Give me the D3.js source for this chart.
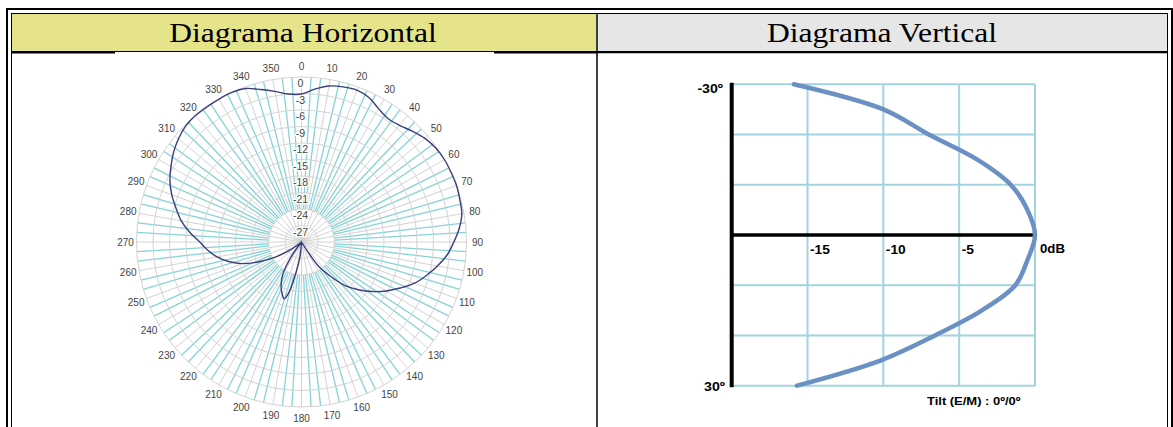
<!DOCTYPE html>
<html>
<head>
<meta charset="utf-8">
<script src="https://cdn.jsdelivr.net/npm/d3@7"></script>
<style>
  html, body { margin: 0; padding: 0; background: #fff; }
  svg { display: block; }
</style>
</head>
<body>
<svg id="sheet" width="1173" height="427"></svg>
<script>
// ---------- Horizontal radiation pattern (azimuth in degrees, level in dB) ----------
const hAngles = [0, 5, 10, 15, 20, 25, 30, 35, 40, 45, 50, 55, 60, 65, 70, 75, 80, 85, 90,
  95, 100, 105, 110, 115, 120, 125, 130, 135, 140, 145, 150, 160, 170, 180,
  186, 190, 194, 197, 200, 205, 210, 215, 220, 225, 230, 235, 240, 245, 250, 255,
  260, 265, 270, 275, 280, 285, 290, 295, 300, 305, 310, 315, 320, 325, 330, 335,
  340, 345, 350, 355];
const hLevels = [-3.1, -2.1, -1.2, -0.8, -0.6, -1.0, -2.0, -2.6, -2.3, -1.5, -0.7, -0.2, 0, 0, 0, -0.2, -0.4, -1.2, -2.3,
  -3.4, -4.9, -6.5, -8.1, -10.2, -12.2, -14.3, -16.5, -18.8, -22.0, -24.8, -30, -30, -30, -30,
  -27.3, -24.5, -20.5, -19.2, -19.8, -21.2, -23.2, -26.8, -30, -30, -30, -27.5, -24.5, -21.5, -18.5, -16.3,
  -14.4, -12.9, -11.5, -9.6, -7.8, -6.4, -4.9, -3.6, -2.6, -1.6, -0.8, -0.2, 0, 0, 0, 0,
  -0.3, -1.3, -2.2, -3.0];
const azimuthLabels = [0, 10, 20, 30, 40, 50, 60, 70, 80, 90, 100, 110, 120, 130, 140, 150, 160, 170,
  180, 190, 200, 210, 220, 230, 240, 250, 260, 270, 280, 290, 300, 310, 320, 330, 340, 350];
const ringLabels = [0, -3, -6, -9, -12, -15, -18, -21, -24, -27];

// ---------- Vertical radiation pattern (elevation in degrees, level in dB) ----------
const vAngles = [-30, -25, -20, -15, -10, -5, 0, 5, 10, 15, 20, 25, 30];
const vLevels = [-15.9, -10.0, -7.0, -3.8, -1.6, -0.5, 0, -0.5, -1.3, -3.5, -6.6, -10.2, -15.7];
const vLevelTicks = [-15, -10, -5];
const vAngleGrid = [-30, -20, -10, 0, 10, 20, 30];

const svg = d3.select("#sheet");
svg.append("rect").attr("width", 1173).attr("height", 427).attr("fill", "#fff");

// ---------- table frame ----------
const frame = svg.append("g");
frame.append("rect").attr("x", 12).attr("y", 14).attr("width", 584).attr("height", 37).attr("fill", "#e6e48b");
frame.append("rect").attr("x", 598).attr("y", 14).attr("width", 569).attr("height", 37).attr("fill", "#e6e6e6");

function hline(x1, x2, y, w) {
  frame.append("line").attr("x1", x1).attr("x2", x2).attr("y1", y).attr("y2", y)
    .attr("stroke", "#000").attr("stroke-width", w);
}
function vline(x, y1, y2, w) {
  frame.append("line").attr("x1", x).attr("x2", x).attr("y1", y1).attr("y2", y2)
    .attr("stroke", "#000").attr("stroke-width", w);
}
hline(6, 1173, 9, 2);      // outer top
hline(11, 1168, 13.5, 1);  // inner top
vline(7, 8, 427, 2);       // outer left
vline(11.5, 13, 427, 1);   // inner left
vline(1172, 8, 427, 2);    // outer right
vline(1167.5, 13, 427, 1); // inner right
vline(597, 13, 427, 1.5);  // column divider
hline(11, 1168, 51.5, 1);  // header bottom
hline(12, 115, 52.5, 2);
hline(494, 597, 52.5, 2);
hline(597, 1168, 52.5, 1.5);

function stretchedText(g, x, y, txt, k, anchor, attrs) {
  const t = g.append("text")
    .attr("transform", `translate(${x},${y}) scale(${k},1)`)
    .attr("text-anchor", anchor)
    .text(txt);
  Object.entries(attrs).forEach(([a, v]) => t.attr(a, v));
  return t;
}
const headFont = { "font-family": "'Liberation Serif','Times New Roman',serif", "font-size": 27, "fill": "#000" };
stretchedText(svg, 303, 42, "Diagrama Horizontal", 1.17, "middle", headFont);
stretchedText(svg, 882, 42, "Diagrama Vertical", 1.17, "middle", headFont);

// ---------- horizontal (polar) diagram ----------
const cx = 301.5, cy = 242, R = 165;
const rad = d3.scaleLinear().domain([-30, 0]).range([0, R]);
const polar = svg.append("g").attr("transform", `translate(${cx},${cy})`);
const toRad = d => d * Math.PI / 180;

// cyan spokes between the 10° lines
const spokeAngles = d3.range(0, 360, 10 / 3).filter(a => Math.abs(a / 10 - Math.round(a / 10)) > 0.01);
polar.append("g").selectAll("line").data(spokeAngles).join("line")
  .attr("x1", a => rad(-24) * Math.sin(toRad(a)))
  .attr("y1", a => -rad(-24) * Math.cos(toRad(a)))
  .attr("x2", a => R * Math.sin(toRad(a)))
  .attr("y2", a => -R * Math.cos(toRad(a)))
  .attr("stroke", "#86d3d7").attr("stroke-width", 1.3);

// grey rings and 10° spokes
polar.append("g").selectAll("circle").data(ringLabels).join("circle")
  .attr("r", d => rad(d))
  .attr("fill", "none").attr("stroke", "#d3d3d3").attr("stroke-width", 1);
polar.append("g").selectAll("line").data(azimuthLabels).join("line")
  .attr("x1", 0).attr("y1", 0)
  .attr("x2", a => R * Math.sin(toRad(a)))
  .attr("y2", a => -R * Math.cos(toRad(a)))
  .attr("stroke", "#d3d3d3").attr("stroke-width", 1);

// azimuth labels
polar.append("g").selectAll("text").data(azimuthLabels).join("text")
  .attr("x", a => (R + 11) * Math.sin(toRad(a)))
  .attr("y", a => -(R + 11) * Math.cos(toRad(a)))
  .attr("text-anchor", "middle").attr("dominant-baseline", "central")
  .attr("font-family", "'Liberation Sans',Arial,sans-serif").attr("font-size", 10)
  .attr("fill", "#444").text(d => d);

// level labels along the 0° spoke
polar.append("g").selectAll("text").data(ringLabels).join("text")
  .attr("x", -1)
  .attr("y", d => -(rad(d) - 6))
  .attr("text-anchor", "middle").attr("dominant-baseline", "central")
  .attr("font-family", "'Liberation Sans',Arial,sans-serif").attr("font-size", 10.5)
  .attr("fill", "#444")
  .attr("stroke", "#fff").attr("stroke-width", 2.5).attr("paint-order", "stroke")
  .text(d => d);

// pattern trace
const hData = hAngles.map((a, i) => ({ a, v: hLevels[i] }));
polar.append("path").datum(hData)
  .attr("d", d3.lineRadial()
    .angle(d => toRad(d.a))
    .radius(d => rad(d.v))
    .curve(d3.curveCatmullRomClosed.alpha(0.5)))
  .attr("fill", "none").attr("stroke", "#3b3d7c").attr("stroke-width", 1.4);

// ---------- vertical diagram ----------
const vx = d3.scaleLinear().domain([-20, 0]).range([731.7, 1035]);
const vy = d3.scaleLinear().domain([-30, 30]).range([84.3, 385.7]);
const vert = svg.append("g");
const gridColor = "#a2d3e0";

vert.append("g").selectAll("line").data(vAngleGrid).join("line")
  .attr("x1", vx(-20)).attr("x2", vx(0))
  .attr("y1", d => vy(d)).attr("y2", d => vy(d))
  .attr("stroke", gridColor).attr("stroke-width", 2);
vert.append("g").selectAll("line").data(vLevelTicks.concat([0])).join("line")
  .attr("x1", d => vx(d)).attr("x2", d => vx(d))
  .attr("y1", vy(-30)).attr("y2", vy(30))
  .attr("stroke", gridColor).attr("stroke-width", 2);

// axes
vert.append("line").attr("x1", vx(-20)).attr("x2", vx(-20))
  .attr("y1", vy(-30) - 1.5).attr("y2", vy(30) + 1.5)
  .attr("stroke", "#000").attr("stroke-width", 4);
vert.append("line").attr("x1", vx(-20)).attr("x2", vx(0))
  .attr("y1", vy(0)).attr("y2", vy(0))
  .attr("stroke", "#000").attr("stroke-width", 3.5);

// pattern trace
const vData = vAngles.map((a, i) => ({ a, v: vLevels[i] }));
vert.append("path").datum(vData)
  .attr("d", d3.line().x(d => vx(d.v)).y(d => vy(d.a)).curve(d3.curveCatmullRom.alpha(0.5)))
  .attr("fill", "none").attr("stroke", "#6b90c3").attr("stroke-width", 4.5)
  .attr("stroke-linecap", "round");

// labels
const boldFont = { "font-family": "'Liberation Sans',Arial,sans-serif", "font-size": 12, "font-weight": "bold", "fill": "#000" };
stretchedText(vert, 723, vy(-30) + 9, "-30º", 1.18, "end", boldFont);
stretchedText(vert, 725, vy(30) + 5, "30º", 1.18, "end", boldFont);
vLevelTicks.forEach(d => stretchedText(vert, vx(d) + 2.5, vy(0) + 19, String(d), 1.15, "start", boldFont));
stretchedText(vert, vx(0) + 5, vy(0) + 18, "0dB", 1.1, "start", boldFont);
stretchedText(vert, 927, 405, "Tilt (E/M) : 0º/0º", 1.18, "start", { ...boldFont, "font-size": 11 });
</script>
</body>
</html>
